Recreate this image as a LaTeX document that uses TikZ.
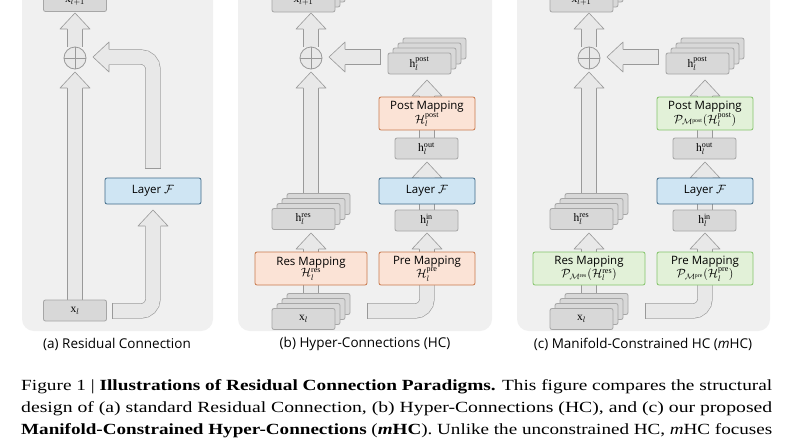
\documentclass[tikz,border=0pt]{standalone}
\usepackage{amsmath,amssymb}
\usepackage{graphicx}
\usepackage{fontspec}
\setmainfont{Liberation Serif}
\newfontfamily\panelfont{Open Sans}
\usepackage{tikz}
\definecolor{panelbg}{HTML}{F0F0F0}
\definecolor{vecfill}{HTML}{D8D8D8}
\definecolor{vecedge}{HTML}{A6A6A6}
\definecolor{fatin}{HTML}{E8E8E8}
\definecolor{fatedge}{HTML}{999999}
\definecolor{layfill}{HTML}{CFE5F3}
\definecolor{layedge}{HTML}{3F6A88}
\definecolor{hcfill}{HTML}{FBE3D6}
\definecolor{hcedge}{HTML}{C9794C}
\definecolor{mhcfill}{HTML}{E2F1D8}
\definecolor{mhcedge}{HTML}{84C46B}
\tikzset{
  panel/.style={fill=panelbg,rounded corners=12pt},
  vec/.style={fill=vecfill,draw=vecedge,line width=0.8pt,rounded corners=2pt,
    minimum width=63pt,minimum height=21pt,inner sep=0pt,font=\panelfont\fontsize{11.5}{13}\selectfont},
  layer/.style={vec,fill=layfill,draw=layedge,minimum width=96pt,minimum height=26pt},
  hcmap/.style={vec,fill=hcfill,draw=hcedge,minimum width=96pt,minimum height=33pt,align=center,
    font=\panelfont\fontsize{11.5}{11.5}\selectfont},
  mhcmap/.style={hcmap,fill=mhcfill,draw=mhcedge},
  shaftout/.style={draw=fatedge,line width=15.2pt,rounded corners=12pt},
  shaftin/.style={draw=fatin,line width=14pt,rounded corners=12pt},
  fatline/.style={draw=fatedge,line width=0.6pt,line join=round},
  capt/.style={font=\panelfont\fontsize{13.5}{15}\selectfont}
}
% fat arrows: shaft path, head at tip with canvas angle
\newcommand\shaft[1]{\draw[shaftout] #1; \draw[shaftin] #1;}
\newcommand\fathead[2]{%
  \fill[fatin,shift={#1},rotate=#2] (0,0) -- (-16,15) -- (-16,-15) -- cycle;
  \draw[fatline,shift={#1},rotate=#2] (-16,7.6) -- (-16,15) -- (0,0) -- (-16,-15) -- (-16,-7.6);}
\newcommand\plusnode[1]{%
  \node[circle,draw=fatedge,fill=fatin,line width=0.8pt,minimum size=22pt,inner sep=0pt] (#1) at (0,0) {};
  \draw[fatedge,line width=0.8pt] (#1.north) -- (#1.south) (#1.west) -- (#1.east);}
\newcommand\stack[4]{%
  \foreach \k in {3,2,1} \node[vec] at ({#2+5*\k},{#3-5*\k}) {};
  \node[vec] (#1) at (#2,#3) {#4};}
% one HC panel: prefix, map style, res / pre / post labels
\newcommand\panelHC[5]{%
  \shaft{(311,47) -- (311,28)} \fathead{(311,13)}{90}
  \shaft{(311,200) -- (311,87)} \fathead{(311,72)}{90}
  \shaft{(380,57) -- (344,57)} \fathead{(329,57)}{180}
  \draw[fatline] (380,49.4) -- (380,64.6);
  \shaft{(427,110) -- (427,95)} \fathead{(427,80)}{90}
  \shaft{(427,145) -- (427,110)}
  \shaft{(427,190) -- (427,177)} \fathead{(427,162)}{90}
  \shaft{(427,215) -- (427,185)}
  \shaft{(427,260) -- (427,248)} \fathead{(427,233)}{90}
  \shaft{(367,311) -- (427,311) -- (427,270)}
  \draw[fatline] (367,303.4) -- (367,318.6);
  \shaft{(311,260) -- (311,248)} \fathead{(311,233)}{90}
  \shaft{(311,315) -- (311,270)}
  \begin{scope}[shift={(311,58)}]\plusnode{#1plus}\end{scope}
  \stack{#1xnext}{303.5}{1.5}{$\mathrm{x}_{l+1}$}
  \stack{#1hpost}{419.5}{63.5}{$\mathrm{h}_l^{\mathrm{post}}$}
  \node[#2] (#1post) at (427,113.5) {Post Mapping\\#5};
  \node[vec] (#1hout) at (426.5,148.5) {$\mathrm{h}_l^{\mathrm{out}}$};
  \node[layer] (#1layer) at (427,191) {Layer $\mathcal{F}$};
  \node[vec] (#1hin) at (426.5,220.5) {$\mathrm{h}_l^{\mathrm{in}}$};
  \node[#2] (#1pre) at (427,268.5) {Pre Mapping\\#4};
  \stack{#1hres}{303.5}{219}{$\mathrm{h}_l^{\mathrm{res}}$}
  \node[#2,minimum width=112pt] (#1res) at (311,268.5) {Res Mapping\\#3};
  \stack{#1x}{303.5}{319}{$\mathrm{x}_l$}}

\begin{document}
\begin{tikzpicture}[x=1pt,y=-1pt]
\useasboundingbox (0,0) rectangle (800,445);
\fill[white] (0,0) rectangle (800,445);
% panels
\fill[panel] (22,-20) rectangle (213,331);
\fill[panel] (238,-20) rectangle (492,331);
\fill[panel] (517,-20) rectangle (770,331);
% (a) residual connection
\shaft{(75,47) -- (75,28)} \fathead{(75,13)}{90}
\shaft{(75,300) -- (75,87)} \fathead{(75,72)}{90}
\shaft{(112,311) -- (153,311) -- (153,225)} \fathead{(153,210)}{90}
\draw[fatline] (112,303.4) -- (112,318.6);
\shaft{(153,168) -- (153,57) -- (108,57)} \fathead{(93,57)}{180}
\draw[fatline] (145.4,168) -- (160.6,168);
\begin{scope}[shift={(75,58)}]\plusnode{aplus}\end{scope}
\node[vec] (axnext) at (75,1) {$\mathrm{x}_{l+1}$};
\node[layer] (alayer) at (153,191) {Layer $\mathcal{F}$};
\node[vec] (ax) at (75,310.5) {$\mathrm{x}_l$};
% (b) hyper-connections
\panelHC{b}{hcmap}{$\mathcal{H}_l^{\mathrm{res}}$}{$\mathcal{H}_l^{\mathrm{pre}}$}{$\mathcal{H}_l^{\mathrm{post}}$}
% (c) manifold-constrained
\begin{scope}[xshift=278pt]
\panelHC{c}{mhcmap}{$\mathcal{P}_{\mathcal{M}^{\mathrm{res}}}(\mathcal{H}_l^{\mathrm{res}})$}{$\mathcal{P}_{\mathcal{M}^{\mathrm{pre}}}(\mathcal{H}_l^{\mathrm{pre}})$}{$\mathcal{P}_{\mathcal{M}^{\mathrm{post}}}(\mathcal{H}_l^{\mathrm{post}})$}
\end{scope}
% captions
\node[capt] (capa) at (117,344) {(a) Residual Connection};
\node[capt] (capb) at (365,344) {(b) Hyper-Connections (HC)};
\node[capt] (capc) at (643,344) {(c) Manifold-Constrained HC (\textit{m}HC)};
\begin{scope}[every node/.style={anchor=west,inner sep=0pt,font=\fontsize{15.5}{18}\selectfont}]
\node (fig1) at (21,387) {\resizebox{751pt}{\height}{Figure 1 | \textbf{Illustrations of Residual Connection Paradigms.} This figure compares the structural}};
\node (fig2) at (21,409) {\resizebox{751pt}{\height}{design of (a) standard Residual Connection, (b) Hyper-Connections (HC), and (c) our proposed}};
\node (fig3) at (21,431) {\resizebox{751pt}{\height}{\textbf{Manifold-Constrained Hyper-Connections} (\textbf{\textit{m}HC}). Unlike the unconstrained HC, \textit{m}HC focuses}};
\end{scope}
\end{tikzpicture}
\end{document}
